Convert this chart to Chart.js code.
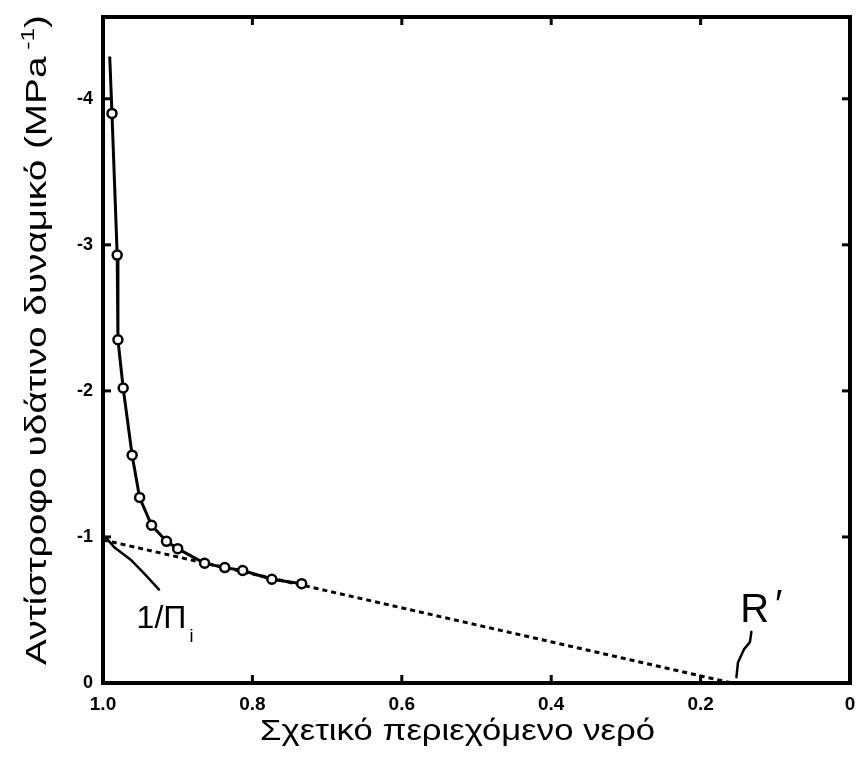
<!DOCTYPE html>
<html><head><meta charset="utf-8">
<script src="https://cdn.jsdelivr.net/npm/chart.js@4/dist/chart.umd.min.js"></script>
<style>html,body{margin:0;padding:0;background:#fff;} #wrap{width:857px;height:763px;}</style>
</head><body><div id="wrap"><canvas id="c" width="857" height="763"></canvas></div>
<script>
// Measured points (relative water content vs inverse water potential)
const waterX = [0.988,0.981,0.980,0.973,0.961,0.951,0.935,0.915,0.900,0.864,0.837,0.813,0.774,0.734];
const invPsi = [3.90,2.93,2.35,2.02,1.56,1.27,1.08,0.97,0.92,0.82,0.79,0.77,0.71,0.68];
const curveStartX = [0.991];
const curveStartY = [4.29];
// Extrapolated linear part (dotted)
const lineX = [1.0, 0.158];
const lineY = [0.98, 0];
// Tick values
const xTicks = [1.0, 0.8, 0.6, 0.4, 0.2, 0];
const yTicks = [0, 1, 2, 3, 4];
// Annotation leaders (data units)
const leaderPiX = [0.997, 0.985, 0.962, 0.945, 0.925];
const leaderPiY = [1.00, 0.93, 0.84, 0.75, 0.64];
const leaderRX = [0.152, 0.150, 0.142, 0.134, 0.132];
const leaderRY = [0.04, 0.14, 0.23, 0.28, 0.35];
const labelPi = {text: '1/Π', sub: 'i', x: 0.955, y: 0.377};
const labelR = {text: 'R', prime: '′', x: 0.147, y: 0.418};
const xTitle = 'Σχετικό περιεχόμενο νερό';
const yTitle = 'Αντίστροφο υδάτινο δυναμικό (MPa';
const yTitleSup = '-1';

const FONT = '"Liberation Sans", Arial, sans-serif';

const curveData = curveStartX.map((v,i)=>({x:v, y:curveStartY[i]}))
  .concat(waterX.map((v,i)=>({x:v, y:invPsi[i]})));
const lineData = lineX.map((v,i)=>({x:v, y:lineY[i]}));

const decorPlugin = {
  id: 'decor',
  afterDatasetsDraw(chart){
    const {ctx, chartArea:a, scales:{x, y}} = chart;
    ctx.save();
    ctx.strokeStyle = '#000'; ctx.fillStyle = '#000';
    ctx.lineWidth = 4;
    ctx.strokeRect(a.left, a.top, a.right - a.left, a.bottom - a.top);
    ctx.lineWidth = 3;
    const seg = (x1,y1,x2,y2)=>{ctx.beginPath();ctx.moveTo(x1,y1);ctx.lineTo(x2,y2);ctx.stroke();};
    xTicks.forEach(v=>{const p=x.getPixelForValue(v); seg(p,a.top,p,a.top+8); seg(p,a.bottom,p,a.bottom-8);});
    yTicks.forEach(v=>{const p=y.getPixelForValue(v); seg(a.left,p,a.left+8,p); seg(a.right,p,a.right-8,p);});
    // leaders
    const poly = (xs, ys)=>{
      ctx.beginPath();
      xs.forEach((v,i)=>{const px=x.getPixelForValue(v), py=y.getPixelForValue(ys[i]); i?ctx.lineTo(px,py):ctx.moveTo(px,py);});
      ctx.stroke();
    };
    ctx.lineWidth = 2.5; ctx.lineJoin='round'; ctx.lineCap='round';
    poly(leaderPiX, leaderPiY);
    poly(leaderRX, leaderRY);
    // labels
    ctx.textBaseline = 'alphabetic'; ctx.textAlign = 'left';
    let px = x.getPixelForValue(labelPi.x), py = y.getPixelForValue(labelPi.y);
    ctx.font = '32px ' + FONT;
    ctx.fillText(labelPi.text, px, py);
    const w = ctx.measureText(labelPi.text).width;
    ctx.font = '18px ' + FONT;
    ctx.fillText(labelPi.sub, px + w + 3, py + 14);
    px = x.getPixelForValue(labelR.x); py = y.getPixelForValue(labelR.y);
    ctx.font = '40px ' + FONT;
    ctx.fillText(labelR.text, px, py);
    const wr = ctx.measureText(labelR.text).width;
    ctx.fillText(labelR.prime, px + wr + 6, py - 4);
    // x axis title, stretched to the reference width
    ctx.save();
    ctx.font = '29px ' + FONT;
    ctx.textAlign = 'left';
    const xw = ctx.measureText(xTitle).width;
    ctx.translate(260, 740);
    ctx.scale(395 / xw, 1);
    ctx.fillText(xTitle, 0, 0);
    ctx.restore();
    // y axis title
    ctx.save();
    ctx.font = '30px ' + FONT;
    const w1 = ctx.measureText(yTitle).width;
    ctx.font = '19px ' + FONT;
    const w2 = ctx.measureText(' ' + yTitleSup).width;
    ctx.font = '30px ' + FONT;
    const w3 = ctx.measureText(')').width;
    const total = w1 + w2 + w3;
    ctx.translate(46, 665);
    ctx.rotate(-Math.PI/2);
    ctx.scale(650 / total, 1);
    ctx.textAlign = 'left';
    ctx.fillText(yTitle, 0, 0);
    ctx.font = '19px ' + FONT;
    ctx.fillText(' ' + yTitleSup, w1, -12);
    ctx.font = '30px ' + FONT;
    ctx.fillText(')', w1 + w2, 0);
    ctx.restore();
    ctx.restore();
  }
};

new Chart(document.getElementById('c'), {
  type: 'line',
  data: {
    datasets: [
      {
        data: curveData,
        borderColor: '#000', borderWidth: 3, tension: 0,
        pointRadius: c => c.dataIndex === 0 ? 0 : 4.5,
        pointBackgroundColor: '#fff', pointBorderColor: '#000', pointBorderWidth: 2.5,
        fill: false
      },
      {
        data: lineData,
        borderColor: '#000', borderWidth: 3, borderDash: [5, 4], pointRadius: 0, fill: false
      }
    ]
  },
  options: {
    responsive: false, animation: false, devicePixelRatio: 1,
    layout: {padding: {top: 17, right: 5, left: 0, bottom: 0}},
    plugins: {legend: {display: false}, tooltip: {enabled: false}},
    scales: {
      x: {
        type: 'linear', reverse: true, min: 0, max: 1,
        afterBuildTicks: s => { s.ticks = xTicks.map(v => ({value: v})); },
        afterFit: s => { s.height = 80; s.paddingLeft = 0; s.paddingRight = 0; },
        grid: {display: false, drawTicks: false}, border: {display: false},
        ticks: {callback: v => v === 0 ? '0' : Number(v).toFixed(1), color: '#000', padding: 10,
                maxRotation: 0, autoSkip: false, font: {family: FONT, weight: 'bold', size: 19}}
      },
      y: {
        type: 'linear', min: 0, max: 4.56,
        afterBuildTicks: s => { s.ticks = yTicks.map(v => ({value: v})); },
        afterFit: s => { s.width = 103; s.paddingTop = 0; s.paddingBottom = 0; },
        grid: {display: false, drawTicks: false}, border: {display: false},
        ticks: {callback: v => v === 0 ? '0' : '-' + v, color: '#000', padding: 10,
                font: {family: FONT, weight: 'bold', size: 18}}
      }
    }
  },
  plugins: [decorPlugin]
});
</script>
</body></html>
